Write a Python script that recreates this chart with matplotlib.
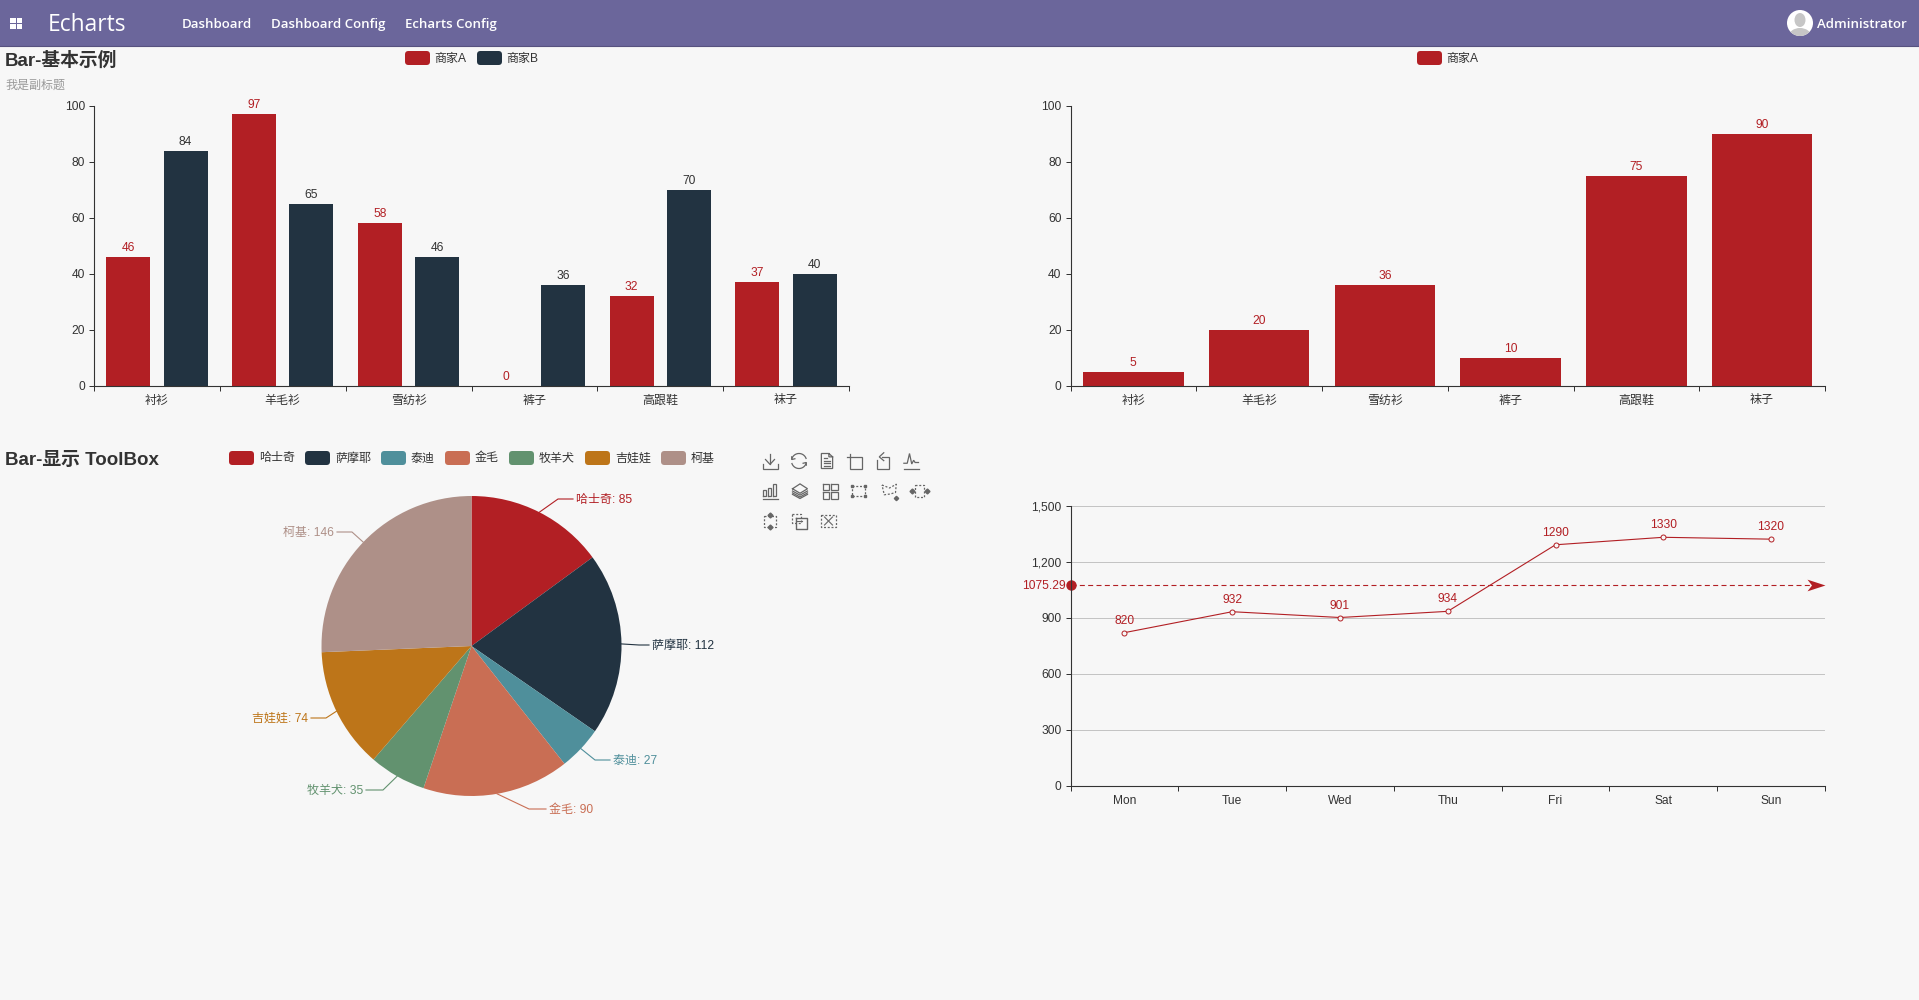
import numpy as np
import matplotlib
matplotlib.use("Agg")
import matplotlib.pyplot as plt
from matplotlib.patches import FancyBboxPatch, Circle, Ellipse, Rectangle
from matplotlib.path import Path

plt.rcParams['font.family'] = ['Liberation Sans', 'Noto Sans CJK SC', 'DejaVu Sans']

W, H = 1919, 1000
BG = '#f7f7f7'
NAV = '#6b669b'
TXT = '#333333'

# data
clothes = ['衬衫', '羊毛衫', '雪纺衫', '裤子', '高跟鞋', '袜子']
shop_a = [46, 97, 58, 0, 32, 37]
shop_b = [84, 65, 46, 36, 70, 40]
shop_a2 = [5, 20, 36, 10, 75, 90]

dogs = ['哈士奇', '萨摩耶', '泰迪', '金毛', '牧羊犬', '吉娃娃', '柯基']
dog_counts = [85, 112, 27, 90, 35, 74, 146]
dog_colors = ['#b21f24', '#223341', '#4f8f9b', '#c96e54', '#62926f', '#bd7519', '#ae9088']

days = ['Mon', 'Tue', 'Wed', 'Thu', 'Fri', 'Sat', 'Sun']
day_values = [820, 932, 901, 934, 1290, 1330, 1320]
line_ticks = [0, 300, 600, 900, 1200, 1500]

# leader line layout for the pie: elbow x, elbow y, end x
leaders = [(558, 499, 573), (639, 645, 649), (595, 760, 610), (529, 809, 546),
           (383, 790, 366), (326, 718, 311), (352, 532, 337)]

fig = plt.figure(figsize=(W / 100, H / 100), dpi=100, facecolor=BG)


def px_axes(x0, y0, x1, y1):
    return fig.add_axes([x0 / W, 1 - y1 / H, (x1 - x0) / W, (y1 - y0) / H], facecolor='none')


def pt(px):
    return px * 0.72


# overlay in pixel coordinates for page furniture
ov = px_axes(0, 0, W, H)
ov.set_xlim(0, W)
ov.set_ylim(H, 0)
ov.axis('off')
ov.set_zorder(5)


def label(x, y, s, size=12, color=TXT, ha='left', **kw):
    ov.text(x, y + 1.5, s, fontsize=pt(size), color=color, ha=ha, va='center', **kw)


def swatch(x, y, color):
    ov.add_patch(FancyBboxPatch((x, y - 7), 25, 14, boxstyle='round,pad=0,rounding_size=3.5',
                                fc=color, ec='none'))


# navbar
ov.add_patch(Rectangle((0, 0), W, 45.5, fc=NAV, ec='none'))
ov.plot([0, W], [45.5, 45.5], color='#57527f', lw=0.8)
for sx in (10, 16.5):
    for sy in (17.5, 23.5):
        ov.add_patch(Rectangle((sx, sy), 5.5, 5, fc='white', ec='none'))
nav_font = ['Open Sans', 'DejaVu Sans']
ov.text(48, 25, 'Echarts', fontsize=pt(22.7), color='white', va='center', family=nav_font, weight='medium')
for x, s in [(182, 'Dashboard'), (271, 'Dashboard Config'), (405, 'Echarts Config')]:
    ov.text(x, 24.5, s, fontsize=pt(13.2), color='white', va='center', family=nav_font, weight='semibold')
ov.text(1817, 24.5, 'Administrator', fontsize=pt(13.2), color='white', va='center', family=nav_font, weight='semibold')
ov.add_patch(Circle((1800, 23), 13, fc='white', ec='none'))
head = Ellipse((1800, 20), 11, 14, fc='#c6c6c6', ec='none')
ov.add_patch(head)
body = Ellipse((1800, 36), 22, 16, fc='#c6c6c6', ec='none')
ov.add_patch(body)
body.set_clip_path(Circle((1800, 23), 13, transform=ov.transData))

# titles and legends
label(5, 59, 'Bar-基本示例', size=18.8, weight='bold')
label(5, 84, '我是副标题', size=12, color='#999999')
label(5, 459, 'Bar-显示 ToolBox', size=18.8, weight='bold')

swatch(405, 58, dog_colors[0])
label(434, 57, '商家A')
swatch(477, 58, dog_colors[1])
label(506, 57, '商家B')
swatch(1417, 58, dog_colors[0])
label(1446, 57, '商家A')

legend_x = [229, 305, 381, 445, 509, 585, 661]
for x, name, c in zip(legend_x, dogs, dog_colors):
    swatch(x, 458, c)
    label(x + 30, 457, name)


def style_category_axis(ax, names, ymax, yticks):
    n = len(names)
    ax.set_xlim(-0.5, n - 0.5)
    ax.set_ylim(0, ymax)
    ax.spines[['top', 'right']].set_visible(False)
    ax.spines[['left', 'bottom']].set_color(TXT)
    ax.spines[['left', 'bottom']].set_linewidth(0.8)
    ax.set_xticks(np.arange(n + 1) - 0.5)
    ax.set_xticklabels([])
    ax.set_xticks(np.arange(n), minor=True)
    ax.set_xticklabels(names, minor=True, fontsize=pt(12), color=TXT)
    ax.tick_params(axis='x', which='major', length=pt(5), width=0.72, color=TXT)
    ax.tick_params(axis='x', which='minor', length=0, pad=pt(9))
    ax.set_yticks(yticks)
    ax.tick_params(axis='y', length=pt(5), width=0.72, color=TXT, labelsize=pt(12), labelcolor=TXT, pad=pt(4))
    ax.patch.set_alpha(0)


# bar chart top left
ax1 = px_axes(94, 106, 849, 385.5)
x = np.arange(len(clothes))
b1 = ax1.bar(x - 0.228, shop_a, 0.35, color=dog_colors[0])
b2 = ax1.bar(x + 0.228, shop_b, 0.35, color=dog_colors[1])
ax1.bar_label(b1, padding=pt(3), fontsize=pt(12), color=dog_colors[0])
ax1.bar_label(b2, padding=pt(3), fontsize=pt(12), color=TXT)
style_category_axis(ax1, clothes, 100, [0, 20, 40, 60, 80, 100])

# bar chart top right
ax2 = px_axes(1070.5, 106, 1825, 385.5)
b3 = ax2.bar(x, shop_a2, 0.8, color=dog_colors[0])
ax2.bar_label(b3, padding=pt(3), fontsize=pt(12), color=dog_colors[0])
style_category_axis(ax2, clothes, 100, [0, 20, 40, 60, 80, 100])

# pie
cx, cy, r = 471.5, 646, 150
ax3 = px_axes(cx - r, cy - r, cx + r, cy + r)
wedges, _ = ax3.pie(dog_counts, colors=dog_colors, startangle=90, counterclock=False, radius=1)
ax3.set_xlim(-1, 1)
ax3.set_ylim(-1, 1)
for w_, name, val, c, (ex, ey, endx) in zip(wedges, dogs, dog_counts, dog_colors, leaders):
    mid = np.deg2rad((w_.theta1 + w_.theta2) / 2)
    sx, sy = cx + r * np.cos(mid), cy - r * np.sin(mid)
    ov.plot([sx, ex, endx], [sy, ey, ey], color=c, lw=0.8)
    if endx > ex:
        label(endx + 3, ey - 0.5, f'{name}: {val}', color=c)
    else:
        label(endx - 3, ey - 0.5, f'{name}: {val}', color=c, ha='right')

# line chart
ax4 = px_axes(1070.5, 505.5, 1825, 786)
style_category_axis(ax4, days, 1500, line_ticks)
ax4.set_yticklabels([f'{v:,}' for v in line_ticks])
ax4.yaxis.grid(True, color='#c4c4c4', lw=0.72)
ax4.set_axisbelow(True)
xd = np.arange(len(days))
ax4.plot(xd, day_values, color=dog_colors[0], lw=0.8, marker='o', ms=pt(5), mfc=BG, mew=0.7, clip_on=False)
for xi, v in zip(xd, day_values):
    ax4.annotate(str(v), (xi, v), xytext=(0, pt(6)), textcoords='offset points', ha='center', va='bottom',
                 fontsize=pt(12), color=dog_colors[0])
avg = np.mean(day_values)
ax4.plot([-0.5, 6.4], [avg, avg], color=dog_colors[0], lw=0.8, ls=(0, (4.5, 3)), clip_on=False)
ax4.plot([-0.5], [avg], 'o', color=dog_colors[0], ms=pt(9), clip_on=False)
dart = Path([(1, 0), (-1, 0.65), (-0.5, 0), (-1, -0.65), (1, 0)], closed=True)
ax4.plot([6.5 - 0.08], [avg], marker=dart, color=dog_colors[0], ms=pt(18), mew=0, clip_on=False)
ax4.annotate(f'{avg:.2f}', (-0.5, avg), xytext=(-pt(5), -1), textcoords='offset points', ha='right', va='center',
             fontsize=pt(12), color=dog_colors[0])


# toolbox icons, drawn on a -1..1 box
def arc(a0, a1, rad=1.0):
    t = np.deg2rad(np.linspace(a0, a1, 30))
    return list(zip(rad * np.cos(t), -rad * np.sin(t)))


solid = '-'
dash = (0, (1.6, 1.4))
icons = [
    [[(0, -1), (0, 0.4)], [(-0.6, -0.2), (0, 0.45), (0.6, -0.2)], [(-1, 0.4), (-1, 1), (1, 1), (1, 0.4)]],
    [arc(20, 165), [(-0.98, -0.55), (-0.95, -0.2), (-0.55, -0.3)], arc(200, 345), [(0.98, 0.55), (0.95, 0.2), (0.55, 0.3)]],
    [[(0.25, -1), (-0.75, -1), (-0.75, 1), (0.75, 1), (0.75, -0.55), (0.25, -1), (0.25, -0.55), (0.75, -0.55)],
     [(-0.45, -0.35), (0.05, -0.35)], [(-0.45, 0), (0.45, 0)], [(-0.45, 0.3), (0.45, 0.3)], [(-0.45, 0.62), (0.45, 0.62)]],
    [[(-0.55, -1), (-0.55, 1), (1, 1), (1, -0.55), (-1, -0.55)]],
    [[(-0.1, -0.5), (0.8, -0.5), (0.8, 1), (-0.8, 1), (-0.8, -0.1)], [(0.1, -1.1), (-0.5, -0.55), (0.1, -0.05)]],
    [[(-1, 1), (1, 1)], [(-0.95, 0.3), (-0.5, 0.3), (-0.2, -1), (0.1, 0.4), (0.35, -0.1), (0.55, 0.2), (1, 0.2)]],
    [[(-1, 1), (1, 1)], [(-0.9, 0.6), (-0.9, -0.1), (-0.5, -0.1), (-0.5, 0.6), (-0.9, 0.6)],
     [(-0.25, 0.6), (-0.25, -0.45), (0.15, -0.45), (0.15, 0.6), (-0.25, 0.6)],
     [(0.45, 0.6), (0.45, -0.9), (0.85, -0.9), (0.85, 0.6), (0.45, 0.6)]],
    [[(-1, -0.3), (0, -0.95), (1, -0.3), (0, 0.3), (-1, -0.3)], [(-1, 0), (0, 0.55), (1, 0)],
     [(-1, 0.25), (0, 0.8), (1, 0.25)], [(-1, 0.45), (0, 1), (1, 0.45)]],
    [[(-1, -1), (-0.1, -1), (-0.1, -0.1), (-1, -0.1), (-1, -1)], [(0.15, -1), (1, -1), (1, -0.1), (0.15, -0.1), (0.15, -1)],
     [(-1, 0.15), (-0.1, 0.15), (-0.1, 1), (-1, 1), (-1, 0.15)], [(0.15, 0.15), (1, 0.15), (1, 1), (0.15, 1), (0.15, 0.15)]],
    [[(-0.9, -0.7), (0.9, -0.7), (0.9, 0.7), (-0.9, 0.7), (-0.9, -0.7)]],
    [[(-1, -0.8), (0, -0.4), (0.9, -0.9), (0.8, 0.2), (0.1, 0.4), (-0.7, 0.5), (-1, -0.8)]],
    [[(-0.65, -0.8), (0.65, -0.8), (0.65, 0.8), (-0.65, 0.8), (-0.65, -0.8)]],
    [[(-0.8, -0.65), (0.8, -0.65), (0.8, 0.75), (-0.8, 0.75), (-0.8, -0.65)]],
    [[(-1, -0.9), (0.3, -0.9), (0.3, 0.2), (-1, 0.2), (-1, -0.9)]],
    [[(-1, -0.75), (1, -0.75), (1, 0.75), (-1, 0.75), (-1, -0.75)]],
]
dashed_icons = {9, 10, 11, 12, 13, 14}
# icon centres per row, the toolbox rows do not line up exactly
icon_x = [[770, 799, 827, 854.5, 883, 911], [770, 800, 830, 858.5, 889.5, 919.5], [770, 799, 828.5]]
icon_y = [461, 491, 521]
ICON = '#666666'
S = 7.5

for i, paths in enumerate(icons):
    ix, iy = icon_x[i // 6][i % 6], icon_y[i // 6]
    for p in paths:
        xs, ys = zip(*p)
        ov.plot([ix + S * a for a in xs], [iy + S * b for b in ys], color=ICON, lw=0.9,
                ls=dash if i in dashed_icons else solid, solid_joinstyle='miter')

# extra bits for the brush icons
for ox, oy in [(-0.9, -0.7), (0.9, -0.7), (0.9, 0.7), (-0.9, 0.7)]:
    ov.plot(icon_x[1][3] + S * ox, icon_y[1] + S * oy, 's', color=ICON, ms=1.8)
ov.plot(icon_x[1][4] + S * 0.8, icon_y[1] + S * 0.9, 'D', color=ICON, ms=2.2)
for ox, oy in [(-1, 0), (1, 0)]:
    ov.plot(icon_x[1][5] + S * ox, icon_y[1] + S * oy, 'D', color=ICON, ms=2.5)
for ox, oy in [(0, -0.8), (0, 0.8)]:
    ov.plot(icon_x[2][0] + S * ox, icon_y[2] + S * oy, 'D', color=ICON, ms=2.5)
kx, ky = icon_x[2][1], icon_y[2]
ov.plot([kx + S * a for a in (-0.4, 1, 1, -0.4, -0.4)], [ky + S * b for b in (-0.4, -0.4, 1, 1, -0.4)], color=ICON, lw=1)
ov.plot([kx - 3, kx + 3], [ky, ky], color=ICON, lw=0.8)
cxi, cyi = icon_x[2][2], icon_y[2]
ov.plot([cxi - 4, cxi + 4], [cyi - 4, cyi + 4], color=ICON, lw=0.8)
ov.plot([cxi - 4, cxi + 4], [cyi + 4, cyi - 4], color=ICON, lw=0.8)

fig.savefig('out.png', dpi=100, facecolor=BG)
